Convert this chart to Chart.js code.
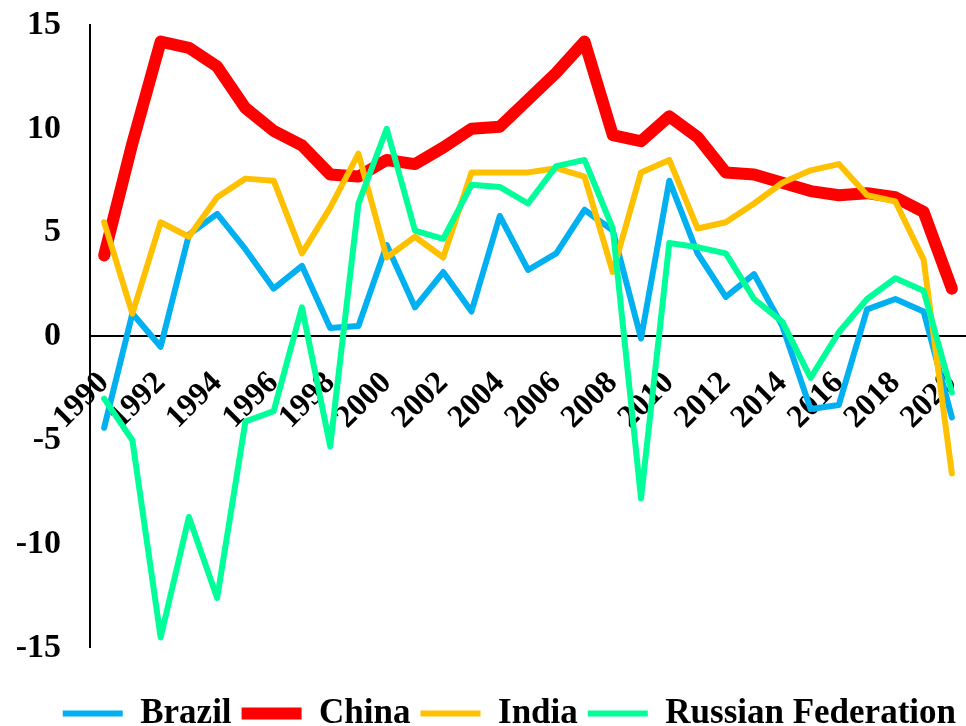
<!DOCTYPE html>
<html>
<head>
<meta charset="utf-8">
<script src="https://cdn.jsdelivr.net/npm/chart.js@4/dist/chart.umd.min.js"></script>
<style>
  html, body { margin: 0; padding: 0; background: #fff; }
  #wrap { width: 966px; height: 726px; position: relative; }
</style>
</head>
<body>
<div id="wrap"><canvas id="c" width="966" height="726"></canvas></div>
<script>
const years = [1990,1991,1992,1993,1994,1995,1996,1997,1998,1999,2000,2001,2002,2003,2004,2005,2006,2007,2008,2009,2010,2011,2012,2013,2014,2015,2016,2017,2018,2019,2020];
const brazil = [-4.4, 1.1, -0.5, 4.9, 5.9, 4.2, 2.3, 3.4, 0.4, 0.5, 4.4, 1.4, 3.1, 1.2, 5.8, 3.2, 4.0, 6.1, 5.1, -0.1, 7.5, 4.0, 1.9, 3.0, 0.5, -3.5, -3.3, 1.3, 1.8, 1.2, -3.9];
const china = [3.9, 9.3, 14.2, 13.9, 13.0, 11.0, 9.9, 9.2, 7.8, 7.7, 8.5, 8.3, 9.1, 10.0, 10.1, 11.4, 12.7, 14.2, 9.7, 9.4, 10.6, 9.6, 7.9, 7.8, 7.4, 7.0, 6.8, 6.9, 6.7, 6.0, 2.3];
const india = [5.5, 1.1, 5.5, 4.8, 6.7, 7.6, 7.5, 4.0, 6.2, 8.8, 3.8, 4.8, 3.8, 7.9, 7.9, 7.9, 8.1, 7.7, 3.1, 7.9, 8.5, 5.2, 5.5, 6.4, 7.4, 8.0, 8.3, 6.8, 6.5, 3.7, -6.6];
const russia = [-3.0, -5.0, -14.5, -8.7, -12.6, -4.1, -3.6, 1.4, -5.3, 6.4, 10.0, 5.1, 4.7, 7.3, 7.2, 6.4, 8.2, 8.5, 5.2, -7.8, 4.5, 4.3, 4.0, 1.8, 0.7, -2.0, 0.2, 1.8, 2.8, 2.2, -2.7];
const seriesNames = ['Brazil', 'China', 'India', 'Russian Federation'];
const yTicks = [-15, -10, -5, 0, 5, 10, 15];

const serif = "'Liberation Serif', 'Times New Roman', serif";
function ds(label, data, color, width, order) {
  return {
    label, data, borderColor: color, backgroundColor: color,
    borderWidth: width, pointRadius: 0, pointHoverRadius: 0, tension: 0,
    borderJoinStyle: 'round', borderCapStyle: 'round', fill: false, order
  };
}
function zeroPad(s) { s.paddingLeft = 0; s.paddingRight = 0; s.paddingTop = 0; s.paddingBottom = 0; }

new Chart(document.getElementById('c'), {
  type: 'line',
  data: {
    labels: years.map(String),
    datasets: [
      ds(seriesNames[0], brazil, '#00B0F0', 6, 4),
      ds(seriesNames[1], china, '#FF0000', 12, 3),
      ds(seriesNames[2], india, '#FFC000', 6, 2),
      ds(seriesNames[3], russia, '#00FF99', 6, 1)
    ]
  },
  options: {
    responsive: false,
    animation: false,
    events: [],
    layout: { padding: { left: 0, right: 0, top: 25, bottom: -15 } },
    plugins: {
      tooltip: { enabled: false },
      legend: {
        position: 'bottom',
        align: 'end',
        title: { display: true, text: ' ', font: { size: 1 }, padding: { top: 18, bottom: 19 } },
        labels: {
          sort: (a, b) => a.datasetIndex - b.datasetIndex,
          usePointStyle: true,
          pointStyle: 'line',
          pointStyleWidth: 60,
          boxWidth: 60,
          padding: 10,
          color: '#000',
          font: { family: serif, size: 35, weight: 'bold' }
        }
      }
    },
    scales: {
      x: {
        type: 'category',
        offset: true,
        position: { y: 0 },
        afterFit: zeroPad,
        grid: { display: false, drawTicks: false },
        border: { display: true, color: '#000', width: 2 },
        ticks: {
          autoSkip: false,
          maxRotation: 45,
          minRotation: 45,
          padding: 28,
          color: '#000',
          font: { family: serif, size: 32, weight: 'bold' },
          callback: function (v, i) { return years[i] % 2 === 0 ? String(years[i]) : ''; }
        }
      },
      y: {
        min: yTicks[0],
        max: yTicks[yTicks.length - 1],
        afterBuildTicks: (s) => { s.ticks = yTicks.map(v => ({ value: v })); },
        afterFit: (s) => { s.width = 90; zeroPad(s); },
        grid: { display: false, drawTicks: false },
        border: { display: true, color: '#000', width: 2 },
        ticks: {
          padding: 29,
          color: '#000',
          font: { family: serif, size: 34, weight: 'bold' }
        }
      }
    }
  }
});
</script>
</body>
</html>
